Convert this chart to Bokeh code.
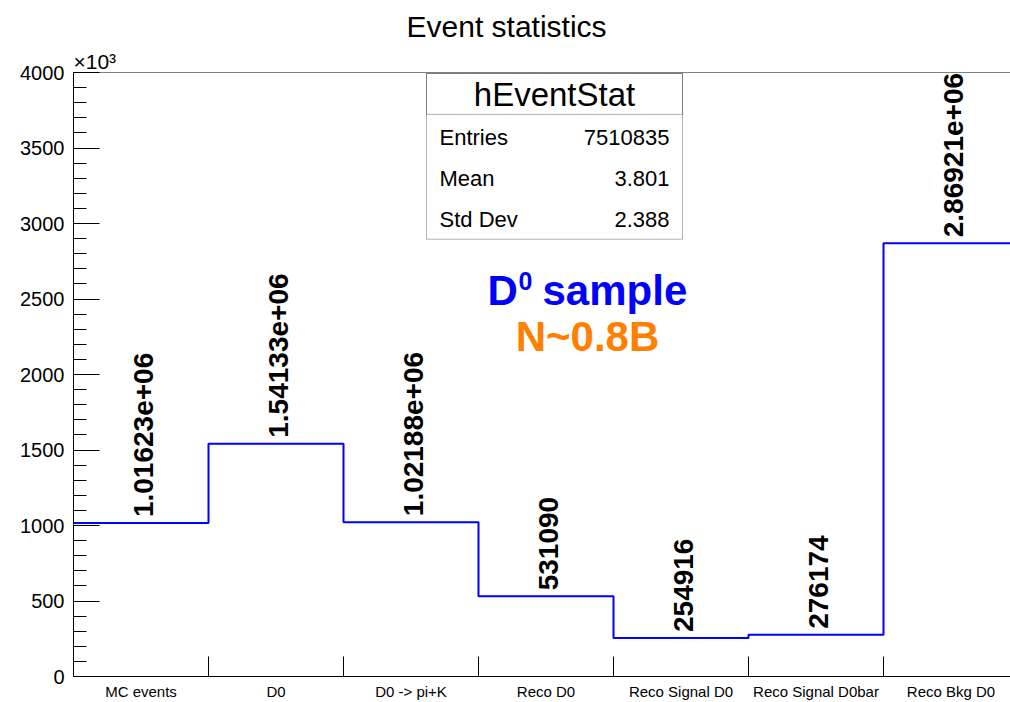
import math
from bokeh.plotting import figure
from bokeh.models import Range1d, FixedTicker, CustomJSTickFormatter, Label, BoxAnnotation, Span, Title
from bokeh.embed import file_html
from bokeh.resources import INLINE
from bokeh.core.properties import value

# ---------------- data ----------------
categories = ["MC events", "D0", "D0 -> pi+K", "Reco D0",
              "Reco Signal D0", "Reco Signal D0bar", "Reco Bkg D0"]
counts = [1016230, 1541330, 1021880, 531090, 254916, 276174, 2869210]
y_ticks = [0, 500000, 1000000, 1500000, 2000000, 2500000, 3000000, 3500000, 4000000]
stats_name = "hEventStat"
stats_labels = ["Entries", "Mean", "Std Dev"]
stats_values = ["7510835", "3.801", "2.388"]

FONT = "Liberation Sans"

# frame geometry (pixels) used to place annotations
FL, FR, FT, FB = 73, 1010, 72, 677
BIN_PX = 135.0
Y_MAX = 4.0e6


def xd(px):
    return (px - FL) / BIN_PX


def yd(py):
    return (FB - py) / (FB - FT) * Y_MAX


edges = list(range(len(categories) + 1))
centers = [i + 0.5 for i in range(len(categories))]
bin_labels = ["%g" % v for v in counts]

p = figure(width=1010, height=702, output_backend="svg", toolbar_location=None,
           x_range=Range1d(0, xd(FR)), y_range=Range1d(0, Y_MAX),
           min_border_left=FL, min_border_right=0, min_border_top=FT,
           min_border_bottom=702 - FB)

p.title.text = "Event statistics"
p.title.text_font = FONT
p.title.text_font_size = "30px"
p.title.text_font_style = "normal"
p.title.text_color = "black"
p.title.text_line_height = 0.9
p.title.align = "left"
p.title.offset = 333
p.title.standoff = 10

# exponent marker of the y axis
p.add_layout(Title(text="\u00d710\u00b3", text_font=FONT, text_font_size="21px",
                   text_font_style="normal", text_color="black", align="left",
                   offset=0, standoff=0), "above")

p.outline_line_color = None
p.xgrid.grid_line_color = None
p.ygrid.grid_line_color = None
p.background_fill_color = "white"
p.border_fill_color = "white"

# y axis
p.yaxis.ticker = FixedTicker(ticks=y_ticks, minor_ticks=[i * 100000 for i in range(41)])
p.yaxis.formatter = CustomJSTickFormatter(code="return (tick/1000).toFixed(0);")
p.yaxis.major_tick_in = 26
p.yaxis.major_tick_out = 0
p.yaxis.minor_tick_in = 13
p.yaxis.minor_tick_out = 0
p.yaxis.major_label_text_font = FONT
p.yaxis.major_label_text_font_size = "20px"
p.yaxis.major_label_text_color = "black"
p.yaxis.major_label_standoff = 9
p.yaxis.axis_line_color = "black"
p.yaxis.major_tick_line_color = "black"
p.yaxis.minor_tick_line_color = "black"

# x axis: labels at bin centres, tick marks at bin edges
p.xaxis.ticker = FixedTicker(ticks=centers, minor_ticks=edges)
p.xaxis.major_label_overrides = {c: lab for c, lab in zip(centers, categories)}
p.xaxis.major_tick_in = 0
p.xaxis.major_tick_out = 0
p.xaxis.minor_tick_in = 20
p.xaxis.minor_tick_out = 0
p.xaxis.major_label_text_font = FONT
p.xaxis.major_label_text_font_size = "15px"
p.xaxis.major_label_text_color = "black"
p.xaxis.major_label_standoff = 6
p.xaxis.axis_line_color = "black"
p.xaxis.minor_tick_line_color = "black"

# frame top line
p.add_layout(Span(location=Y_MAX, dimension="width", line_color="black", line_width=1))

# histogram
p.step(x=edges, y=counts + [counts[-1]], mode="after", line_color="#0000ff", line_width=2)

# bin content labels
p.text(x=centers, y=counts, text=bin_labels, angle=math.pi / 2,
       text_align="left", text_baseline="middle",
       text_font=value(FONT), text_font_style="bold", text_font_size="28px",
       text_color="black", x_offset=2, y_offset=-6)

# stats box
p.add_layout(BoxAnnotation(left=xd(426), right=xd(682), top=yd(73), bottom=yd(239),
                           fill_color="white", fill_alpha=1.0,
                           line_color="black", line_width=1))
p.add_layout(BoxAnnotation(left=xd(426), right=xd(682), top=yd(73), bottom=yd(114),
                           fill_alpha=0.0, line_color="black", line_width=1))
p.add_layout(Label(x=xd(554), y=yd(94), text=stats_name, text_font=FONT,
                   text_font_size="33px", text_color="black",
                   text_align="center", text_baseline="middle"))
for i, (lab, val) in enumerate(zip(stats_labels, stats_values)):
    yy = yd(137 + 41 * i)
    p.add_layout(Label(x=xd(439), y=yy, text=lab, text_font=FONT, text_font_size="22px",
                       text_color="black", text_align="left", text_baseline="middle"))
    p.add_layout(Label(x=xd(669), y=yy, text=val, text_font=FONT, text_font_size="22px",
                       text_color="black", text_align="right", text_baseline="middle"))

# sample annotation
p.add_layout(Label(x=xd(487), y=yd(290), text="D", text_font=FONT, text_font_size="42px",
                   text_font_style="bold", text_color="#0000ff", text_baseline="middle"))
p.add_layout(Label(x=xd(518), y=yd(281), text="0", text_font=FONT, text_font_size="25px",
                   text_font_style="bold", text_color="#0000ff", text_baseline="middle"))
p.add_layout(Label(x=xd(542), y=yd(290), text="sample", text_font=FONT, text_font_size="42px",
                   text_font_style="bold", text_color="#0000ff", text_baseline="middle"))
p.add_layout(Label(x=xd(587), y=yd(336), text="N~0.8B", text_font=FONT, text_font_size="42px",
                   text_font_style="bold", text_color="#ff7f00", text_align="center",
                   text_baseline="middle"))

open("out.html", "w").write(file_html(p, INLINE))
